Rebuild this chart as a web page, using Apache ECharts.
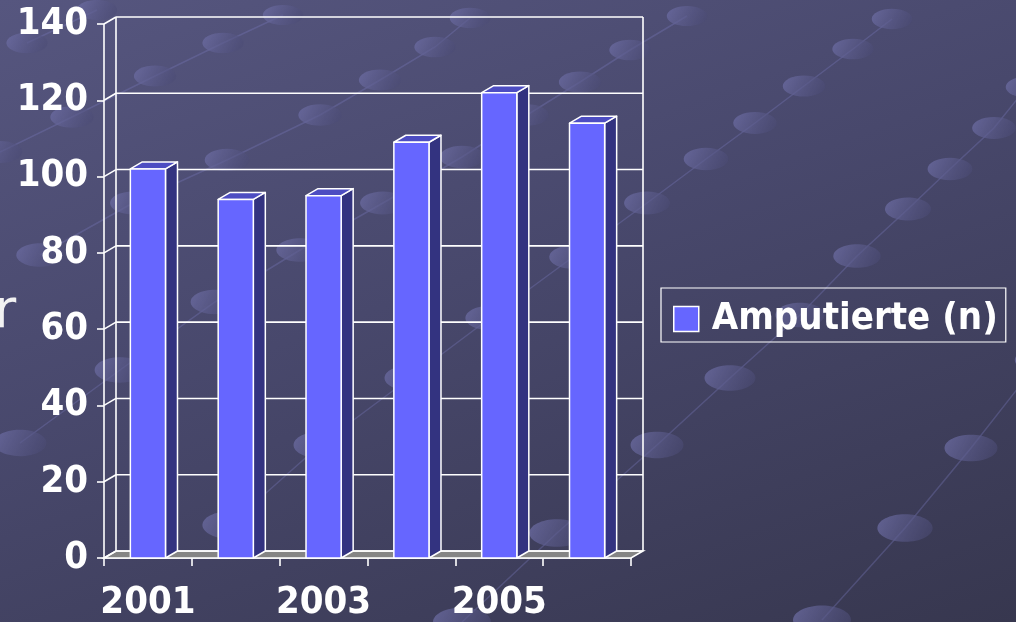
<!DOCTYPE html>
<html>
<head>
<meta charset="utf-8">
<script src="https://cdn.jsdelivr.net/npm/echarts/dist/echarts.min.js"></script>
<style>
  html, body { margin: 0; padding: 0; overflow: hidden; }
  #chart {
    width: 1016px; height: 622px;
    background: linear-gradient(160deg, #56567f 0%, #48486c 45%, #37374f 100%);
  }
</style>
</head>
<body>
<div id="chart"></div>
<script>
// Annual number of amputees
const years = ['2001', '2002', '2003', '2004', '2005', '2006'];
const amputees = [102, 94, 95, 109, 122, 114];
const yTicks = [0, 20, 40, 60, 80, 100, 120, 140];
const seriesName = 'Amputierte (n)';

const FONT = "'DejaVu Sans Condensed', 'DejaVu Sans', sans-serif";
const DEPTH_X = 12, DEPTH_Y = -7;       // oblique projection of the chart depth
const WALL = '#ffffff';

// Slide backdrop: chains of soft dots joined by thin lines
const dotChains = [
  [[97, 10], [27, 43]],
  [[283, 15], [223, 43], [155, 76], [72, 117], [0, 152]],
  [[470, 18], [435, 47], [380, 80], [320, 115], [227, 160], [133, 203], [40, 255]],
  [[687, 16], [630, 50], [580, 82], [527, 115], [462, 157], [383, 203], [300, 250], [215, 302], [120, 370], [20, 443]],
  [[892, 19], [853, 49], [804, 86], [755, 123], [706, 159], [647, 203], [573, 257], [490, 318], [410, 378], [320, 445], [230, 525]],
  [[1027, 87], [994, 128], [950, 169], [908, 209], [857, 256], [800, 315], [730, 378], [657, 445], [557, 533], [462, 622]],
  [[1040, 360], [971, 448], [905, 528], [822, 620]]
];
const backdrop = [];
dotChains.forEach(chain => {
  backdrop.push({
    type: 'polyline', z: -20, silent: true,
    shape: { points: chain },
    style: { stroke: 'rgba(120,120,185,0.35)', lineWidth: 1.5, fill: null }
  });
  chain.forEach(([cx, cy]) => {
    const s = 1 + cy / 622 * 0.45;
    backdrop.push({
      type: 'ellipse', z: -19, silent: true,
      shape: { cx: cx, cy: cy, rx: 20 * s, ry: 10 * s },
      style: {
        fill: {
          type: 'linear', x: 0, y: 0, x2: 1, y2: 1,
          colorStops: [
            { offset: 0, color: 'rgba(112,112,168,0.75)' },
            { offset: 1, color: 'rgba(72,72,112,0.55)' }
          ]
        }
      }
    });
  });
});
// cut-off word at the slide's left margin
backdrop.push({
  type: 'text', z: 5, silent: true, x: -6, y: 286,
  style: { text: 'r', font: "54px 'DejaVu Sans', sans-serif", fill: '#f2f2f2', verticalAlign: 'top' }
});

const chart = echarts.init(document.getElementById('chart'));

function wallItem(params, api) {
  const cs = params.coordSys;
  const v = api.value(1);
  const y = api.coord([0, v])[1];
  const x0 = cs.x, x1 = cs.x + cs.width;
  const lineStyle = { stroke: WALL, lineWidth: 1.6, fill: null };
  const children = [
    { type: 'line', shape: { x1: x0 + DEPTH_X, y1: y + DEPTH_Y, x2: x1 + DEPTH_X, y2: y + DEPTH_Y }, style: lineStyle },
    { type: 'line', shape: { x1: x0, y1: y, x2: x0 + DEPTH_X, y2: y + DEPTH_Y }, style: lineStyle }
  ];
  if (params.dataIndex === 0) {
    const top = cs.y + DEPTH_Y, bot = cs.y + cs.height + DEPTH_Y;
    children.unshift({
      type: 'polygon',
      shape: { points: [[x0, y], [x1, y], [x1 + DEPTH_X, y + DEPTH_Y], [x0 + DEPTH_X, y + DEPTH_Y]] },
      style: { fill: '#858585', stroke: WALL, lineWidth: 1.6 }
    });
    children.push(
      { type: 'line', shape: { x1: x0 + DEPTH_X, y1: top, x2: x0 + DEPTH_X, y2: bot }, style: lineStyle },
      { type: 'line', shape: { x1: x1 + DEPTH_X, y1: top, x2: x1 + DEPTH_X, y2: bot }, style: lineStyle },
      { type: 'line', shape: { x1: x0, y1: cs.y + cs.height, x2: x0, y2: cs.y }, style: lineStyle }
    );
  }
  return { type: 'group', children: children };
}

function barItem(params, api) {
  const i = api.value(0), v = api.value(1);
  const top = api.coord([i, v]);
  const base = api.coord([i, 0]);
  const w = api.size([1, 0])[0] * 0.4;
  const l = top[0] - w / 2, r = top[0] + w / 2;
  const t = top[1], b = base[1];
  const edge = { stroke: '#ffffff', lineWidth: 1.5, lineJoin: 'round' };
  return {
    type: 'group',
    children: [
      { type: 'polygon',
        shape: { points: [[r, t], [r + DEPTH_X, t + DEPTH_Y], [r + DEPTH_X, b + DEPTH_Y], [r, b]] },
        style: Object.assign({ fill: '#333380' }, edge) },
      { type: 'polygon',
        shape: { points: [[l, t], [r, t], [r + DEPTH_X, t + DEPTH_Y], [l + DEPTH_X, t + DEPTH_Y]] },
        style: Object.assign({ fill: '#4d4dc2' }, edge) },
      { type: 'rect',
        shape: { x: l, y: t, width: w, height: b - t },
        style: Object.assign({ fill: api.visual('color') }, edge) }
    ]
  };
}

chart.setOption({
  backgroundColor: 'transparent',
  animation: false,
  graphic: backdrop,
  grid: { left: 104, top: 24, width: 527, height: 537, containLabel: false },
  legend: {
    left: 661, top: 288,
    data: [{ name: seriesName, icon: 'rect' }],
    selectedMode: false,
    borderColor: '#ffffff', borderWidth: 1.2, borderRadius: 0,
    padding: [12, 8, 4, 12],
    itemWidth: 25, itemHeight: 25,
    itemStyle: { color: '#6666ff', borderColor: '#ffffff', borderWidth: 1.5 },
    textStyle: { color: '#ffffff', fontSize: 38, fontWeight: 'bold', fontFamily: FONT, padding: [0, 0, 0, 8] }
  },
  xAxis: {
    type: 'category',
    data: years,
    boundaryGap: true,
    axisLine: { show: true, lineStyle: { color: WALL, width: 1.6 } },
    axisTick: { show: true, interval: 0, length: 8, lineStyle: { color: WALL, width: 1.6 } },
    axisLabel: { interval: 1, margin: 26, color: '#ffffff', fontSize: 38, fontWeight: 'bold', fontFamily: FONT },
    splitLine: { show: false }
  },
  yAxis: {
    type: 'value',
    min: 0, max: 140, interval: 20,
    axisLine: { show: false },
    axisTick: { show: true, length: 7, lineStyle: { color: WALL, width: 1.6 } },
    axisLabel: { margin: 16, padding: [6, 0, 0, 0], color: '#ffffff', fontSize: 38, fontWeight: 'bold', fontFamily: FONT },
    splitLine: { show: false }
  },
  series: [
    {
      type: 'custom', name: 'wall', z: 1, clip: false, silent: true,
      renderItem: wallItem,
      data: yTicks.map(v => [0, v])
    },
    {
      type: 'custom', name: seriesName, z: 3, clip: false,
      itemStyle: { color: '#6666ff', borderColor: '#ffffff', borderWidth: 1.5 },
      renderItem: barItem,
      encode: { x: 0, y: 1 },
      data: amputees.map((v, i) => [i, v])
    }
  ]
});
</script>
</body>
</html>
